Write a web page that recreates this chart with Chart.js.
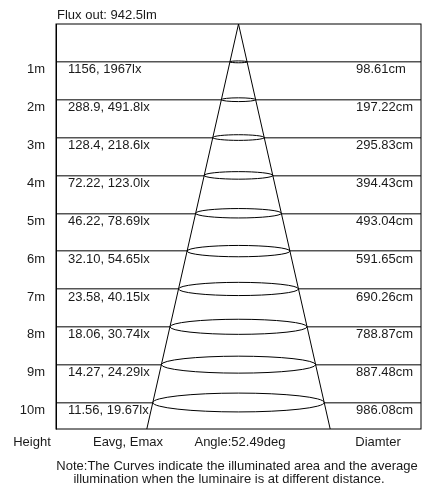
<!DOCTYPE html>
<html>
<head>
<meta charset="utf-8">
<script src="https://cdn.jsdelivr.net/npm/chart.js@4.4.0/dist/chart.umd.min.js"></script>
<style>
body { margin: 0; background: #fff; }
</style>
</head>
<body>
<canvas id="chart" width="424" height="483"></canvas>
<script>
const heights = [1, 2, 3, 4, 5, 6, 7, 8, 9, 10];
const eavg = [1156, 288.9, 128.4, 72.22, 46.22, 32.10, 23.58, 18.06, 14.27, 11.56];
const emax = [1967, 491.8, 218.6, 123.0, 78.69, 54.65, 40.15, 30.74, 24.29, 19.67];
const diameters = [98.61, 197.22, 295.83, 394.43, 493.04, 591.65, 690.26, 788.87, 887.48, 986.08];
const fluxOut = 942.5;
const beamAngle = 52.49;
const columnTitles = ['Height', 'Eavg, Emax', 'Angle:' + beamAngle + 'deg', 'Diamter'];
const noteLines = [
    'Note:The Curves indicate the illuminated area and the average',
    'illumination when the luminaire is at different distance.'
];

const FAMILY = '"Liberation Sans", Arial, sans-serif';
const FONT = '13px ' + FAMILY;
const TEXT = '#1a1a1a';
const Y_MAX = 10.7;
const X_RANGE = 1050;

// cone edge from the luminaire down to the bottom of the plot
function coneEdge(sign) {
    const halfPerMetre = Math.tan(beamAngle / 2 * Math.PI / 180) * 100;
    return [{ x: 0, y: 0 }, { x: sign * halfPerMetre * Y_MAX, y: Y_MAX }];
}

const beamPlugin = {
    id: 'beam',
    beforeDatasetsDraw(chart) {
        const { ctx, scales: { x, y } } = chart;
        ctx.save();
        ctx.lineWidth = 1;
        ctx.strokeStyle = '#000';
        ctx.fillStyle = '#fff';
        heights.forEach((h, i) => {
            const cx = x.getPixelForValue(0);
            const cy = y.getPixelForValue(h);
            const rx = x.getPixelForValue(diameters[i] / 2) - cx;
            ctx.beginPath();
            ctx.ellipse(cx, cy, rx, rx * 0.11, 0, 0, Math.PI * 2);
            ctx.fill();
            ctx.stroke();
        });
        ctx.restore();
    },
    afterDraw(chart) {
        const { ctx, chartArea: a, scales: { y } } = chart;
        ctx.save();
        ctx.strokeStyle = '#000';
        ctx.lineWidth = 1;
        ctx.strokeRect(a.left, a.top, a.right - a.left, a.bottom - a.top);

        ctx.font = FONT;
        ctx.fillStyle = TEXT;
        ctx.textBaseline = 'middle';
        ctx.textAlign = 'left';
        heights.forEach((h, i) => {
            const py = y.getPixelForValue(h) + 8;
            ctx.fillText(eavg[i].toPrecision(4) + ', ' + emax[i].toPrecision(4) + 'lx', a.left + 12, py);
            ctx.fillText(diameters[i].toFixed(2) + 'cm', a.right - 65, py);
        });

        ctx.fillText('Flux out: ' + fluxOut + 'lm', a.left + 1, 15);

        ctx.textAlign = 'center';
        const centres = [32, 128, 240, 378];
        columnTitles.forEach((t, i) => ctx.fillText(t, centres[i], a.bottom + 13));
        ctx.fillText(noteLines[0], 237, a.bottom + 37);
        ctx.fillText(noteLines[1], 229, a.bottom + 50);
        ctx.restore();
    }
};

new Chart(document.getElementById('chart'), {
    type: 'scatter',
    data: {
        datasets: [
            { data: coneEdge(-1), showLine: true, borderColor: '#000', borderWidth: 1, pointRadius: 0 },
            { data: coneEdge(1), showLine: true, borderColor: '#000', borderWidth: 1, pointRadius: 0 }
        ]
    },
    options: {
        responsive: false,
        animation: false,
        layout: { padding: { left: 0, right: 3, top: 24, bottom: 54 } },
        plugins: {
            legend: { display: false },
            tooltip: { enabled: false }
        },
        scales: {
            x: { type: 'linear', display: false, min: -X_RANGE, max: X_RANGE },
            y: {
                type: 'linear',
                reverse: true,
                min: 0,
                max: Y_MAX,
                afterBuildTicks: s => { s.ticks = heights.map(v => ({ value: v })); },
                afterFit: s => { s.width = 56; },
                ticks: {
                    callback: v => v + 'm',
                    font: { family: FAMILY, size: 13 },
                    color: TEXT,
                    padding: 11,
                    labelOffset: 8
                },
                grid: { color: '#555', lineWidth: 1.5, drawTicks: false },
                border: { display: true, color: '#000', width: 1 }
            }
        }
    },
    plugins: [beamPlugin]
});
</script>
</body>
</html>
